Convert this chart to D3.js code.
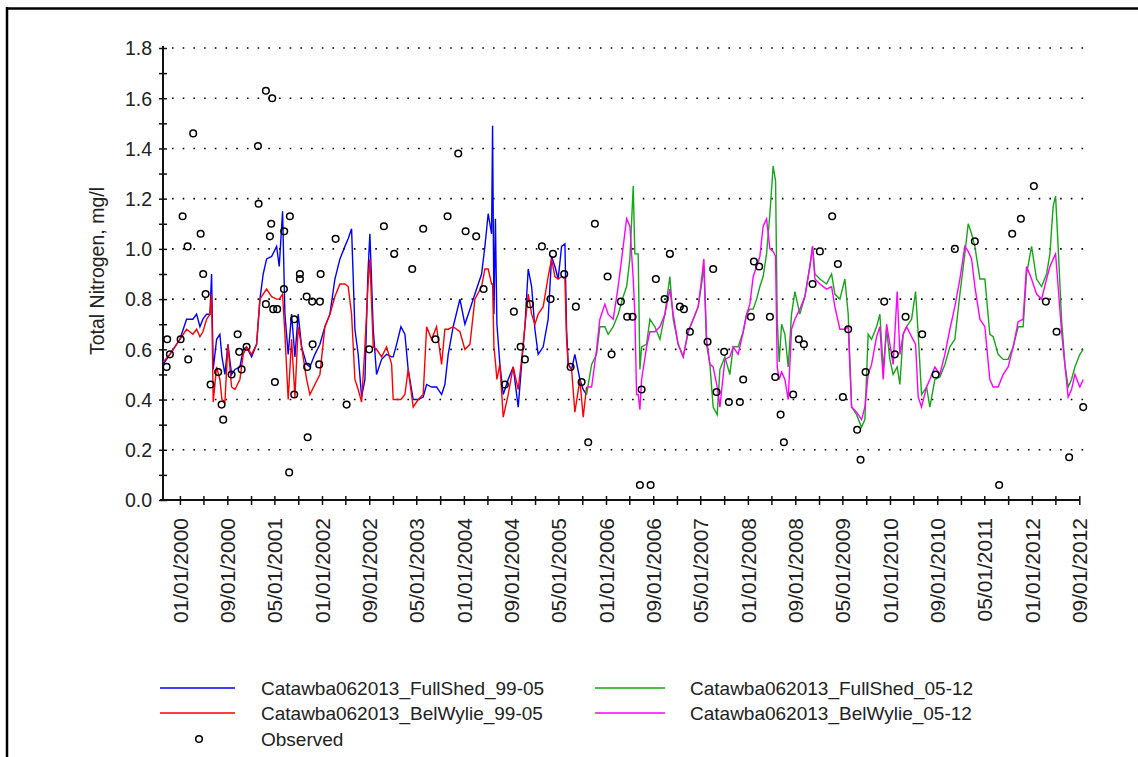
<!DOCTYPE html>
<html>
<head>
<meta charset="utf-8">
<script src="https://cdn.jsdelivr.net/npm/d3@7"></script>
<style>
  body { margin: 0; background: #fff; }
  svg { display: block; font-family: Arial, "Liberation Sans", sans-serif; }
</style>
</head>
<body>
<div id="chart"></div>
<script>
// model runs 1999-2005 (decimal years, mg/l)
const t9905 = [1999.765, 1999.859, 2000.000, 2000.094, 2000.183, 2000.235, 2000.282, 2000.324, 2000.376, 2000.423,
    2000.446, 2000.469, 2000.517, 2000.563, 2000.592, 2000.634, 2000.676, 2000.728, 2000.775, 2000.845,
    2000.892, 2000.939, 2001.010, 2001.080, 2001.127, 2001.173, 2001.221, 2001.292, 2001.362, 2001.399,
    2001.446, 2001.479, 2001.525, 2001.573, 2001.620, 2001.666, 2001.714, 2001.785, 2001.831, 2001.901,
    2001.972, 2002.042, 2002.113, 2002.183, 2002.254, 2002.324, 2002.370, 2002.418, 2002.465, 2002.511,
    2002.559, 2002.606, 2002.648, 2002.676, 2002.723, 2002.770, 2002.841, 2002.911, 2002.982, 2003.004,
    2003.052, 2003.113, 2003.169, 2003.215, 2003.286, 2003.356, 2003.427, 2003.475, 2003.545, 2003.615,
    2003.686, 2003.732, 2003.779, 2003.849, 2003.944, 2004.014, 2004.085, 2004.155, 2004.249, 2004.296,
    2004.342, 2004.390, 2004.404, 2004.423, 2004.444, 2004.465, 2004.507, 2004.554, 2004.624, 2004.694,
    2004.765, 2004.813, 2004.859, 2004.906, 2004.954, 2005.000, 2005.046, 2005.117, 2005.187, 2005.235,
    2005.282, 2005.328, 2005.376, 2005.423, 2005.446, 2005.469, 2005.517, 2005.563, 2005.634, 2005.680,
    2005.728];
const fullShed9905 = [0.54, 0.58, 0.64, 0.72, 0.72, 0.74, 0.69, 0.72, 0.74, 0.74,
    0.90, 0.52, 0.64, 0.66, 0.57, 0.50, 0.62, 0.50, 0.52, 0.53,
    0.60, 0.61, 0.57, 0.62, 0.80, 0.90, 0.96, 0.97, 1.01, 0.93,
    1.15, 0.74, 0.58, 0.74, 0.57, 0.74, 0.61, 0.54, 0.53, 0.58,
    0.62, 0.69, 0.74, 0.88, 0.96, 1.01, 1.04, 1.08, 0.68, 0.58,
    0.41, 0.48, 0.90, 1.06, 0.68, 0.50, 0.56, 0.58, 0.57, 0.57,
    0.62, 0.69, 0.66, 0.52, 0.40, 0.40, 0.41, 0.46, 0.45, 0.45,
    0.42, 0.46, 0.58, 0.69, 0.80, 0.70, 0.76, 0.82, 0.90, 1.01,
    1.14, 1.06, 1.49, 0.74, 1.12, 0.70, 0.54, 0.42, 0.48, 0.53,
    0.37, 0.54, 0.69, 0.92, 0.85, 0.68, 0.58, 0.61, 0.72, 0.97,
    0.93, 0.88, 1.01, 1.02, 0.68, 0.54, 0.52, 0.58, 0.48, 0.44,
    0.42];
const belWylie9905 = [0.55, 0.58, 0.64, 0.68, 0.66, 0.68, 0.65, 0.67, 0.72, 0.74,
    0.82, 0.39, 0.53, 0.48, 0.40, 0.39, 0.62, 0.45, 0.44, 0.48,
    0.58, 0.61, 0.58, 0.62, 0.80, 0.82, 0.84, 0.81, 0.80, 0.80,
    0.82, 0.66, 0.40, 0.64, 0.41, 0.69, 0.61, 0.48, 0.42, 0.46,
    0.50, 0.69, 0.74, 0.81, 0.86, 0.86, 0.85, 0.74, 0.48, 0.44,
    0.39, 0.61, 0.85, 0.96, 0.61, 0.60, 0.57, 0.61, 0.54, 0.40,
    0.40, 0.40, 0.42, 0.52, 0.37, 0.40, 0.42, 0.69, 0.64, 0.69,
    0.54, 0.68, 0.68, 0.69, 0.67, 0.60, 0.62, 0.80, 0.85, 0.92,
    0.92, 0.86, 0.86, 0.61, 0.55, 0.48, 0.54, 0.33, 0.42, 0.53,
    0.44, 0.56, 0.69, 0.82, 0.74, 0.70, 0.74, 0.77, 0.89, 0.96,
    0.89, 0.88, 0.89, 0.88, 0.64, 0.54, 0.52, 0.35, 0.48, 0.33,
    0.45];

// model runs 2005-2012
const t0512 = [2005.728, 2005.799, 2005.869, 2005.915, 2005.986, 2006.032, 2006.103, 2006.173, 2006.244, 2006.292,
    2006.338, 2006.385, 2006.408, 2006.432, 2006.455, 2006.479, 2006.503, 2006.573, 2006.620, 2006.690,
    2006.761, 2006.831, 2006.901, 2006.948, 2007.018, 2007.089, 2007.159, 2007.230, 2007.300, 2007.348,
    2007.380, 2007.418, 2007.465, 2007.511, 2007.568, 2007.606, 2007.676, 2007.746, 2007.793, 2007.863,
    2007.934, 2007.982, 2008.028, 2008.075, 2008.123, 2008.169, 2008.215, 2008.263, 2008.310, 2008.356,
    2008.390, 2008.413, 2008.441, 2008.475, 2008.521, 2008.568, 2008.615, 2008.662, 2008.732, 2008.803,
    2008.873, 2008.911, 2008.944, 2009.014, 2009.108, 2009.179, 2009.225, 2009.296, 2009.366, 2009.413,
    2009.461, 2009.531, 2009.601, 2009.648, 2009.694, 2009.742, 2009.813, 2009.859, 2009.906, 2009.954,
    2010.000, 2010.046, 2010.103, 2010.141, 2010.187, 2010.235, 2010.306, 2010.362, 2010.399, 2010.446,
    2010.517, 2010.563, 2010.634, 2010.704, 2010.775, 2010.845, 2010.915, 2010.986, 2011.056, 2011.103,
    2011.151, 2011.197, 2011.268, 2011.338, 2011.408, 2011.455, 2011.525, 2011.596, 2011.666, 2011.737,
    2011.807, 2011.877, 2011.925, 2011.996, 2012.066, 2012.137, 2012.207, 2012.254, 2012.300, 2012.334,
    2012.370, 2012.418, 2012.465, 2012.511, 2012.559, 2012.606, 2012.676, 2012.723];
const fullShed0512 = [0.42, 0.54, 0.58, 0.69, 0.69, 0.66, 0.69, 0.74, 0.81, 0.85,
    0.96, 1.25, 0.98, 0.98, 0.98, 0.52, 0.61, 0.62, 0.72, 0.69,
    0.64, 0.74, 0.89, 0.72, 0.62, 0.57, 0.67, 0.72, 0.77, 0.86,
    0.93, 0.62, 0.54, 0.37, 0.34, 0.52, 0.57, 0.50, 0.61, 0.61,
    0.67, 0.74, 0.76, 0.76, 0.80, 0.85, 0.89, 0.98, 1.14, 1.33,
    1.27, 0.72, 0.55, 0.70, 0.66, 0.53, 0.74, 0.83, 0.74, 0.81,
    0.93, 1.01, 0.90, 0.88, 0.86, 0.90, 0.82, 0.80, 0.88, 0.74,
    0.37, 0.34, 0.29, 0.32, 0.66, 0.64, 0.69, 0.74, 0.52, 0.68,
    0.56, 0.50, 0.53, 0.46, 0.66, 0.69, 0.72, 0.83, 0.66, 0.42,
    0.45, 0.37, 0.48, 0.49, 0.54, 0.61, 0.64, 0.82, 0.98, 1.10,
    1.06, 1.01, 0.88, 0.88, 0.66, 0.65, 0.58, 0.56, 0.56, 0.61,
    0.69, 0.69, 0.90, 1.01, 0.88, 0.85, 0.90, 0.98, 1.17, 1.21,
    1.01, 0.72, 0.54, 0.45, 0.48, 0.53, 0.58, 0.60];
const belWylie0512 = [0.45, 0.45, 0.60, 0.72, 0.78, 0.74, 0.72, 0.85, 1.01, 1.12,
    1.09, 0.88, 0.74, 0.42, 0.42, 0.36, 0.48, 0.61, 0.67, 0.67,
    0.69, 0.74, 0.84, 0.74, 0.62, 0.57, 0.67, 0.72, 0.77, 0.88,
    0.96, 0.64, 0.54, 0.53, 0.45, 0.37, 0.56, 0.57, 0.61, 0.58,
    0.67, 0.74, 0.78, 0.89, 0.93, 0.97, 1.09, 1.12, 1.00, 0.99,
    0.97, 0.53, 0.48, 0.51, 0.48, 0.40, 0.68, 0.72, 0.76, 0.81,
    0.93, 1.01, 0.88, 0.86, 0.84, 0.85, 0.77, 0.68, 0.68, 0.69,
    0.37, 0.35, 0.32, 0.37, 0.50, 0.54, 0.65, 0.69, 0.48, 0.70,
    0.62, 0.54, 0.83, 0.58, 0.66, 0.69, 0.65, 0.62, 0.41, 0.37,
    0.45, 0.48, 0.53, 0.50, 0.58, 0.68, 0.77, 0.88, 1.01, 0.99,
    0.96, 0.85, 0.72, 0.69, 0.48, 0.45, 0.45, 0.50, 0.53, 0.61,
    0.71, 0.72, 0.93, 0.88, 0.82, 0.80, 0.88, 0.93, 0.96, 0.98,
    0.85, 0.67, 0.54, 0.41, 0.44, 0.50, 0.45, 0.48];

// observed samples
const obsT = [1999.821, 1999.859, 1999.813, 2000.010, 2000.038, 2000.117, 2000.108, 2000.187, 2000.292, 2000.328,
    2000.362, 2000.432, 2000.539, 2000.587, 2000.610, 2000.728, 2000.813, 2000.835, 2000.869, 2000.939,
    2001.108, 2001.099, 2001.211, 2001.300, 2001.286, 2001.268, 2001.211, 2001.314, 2001.338, 2001.370,
    2001.469, 2001.465, 2001.549, 2001.539, 2001.610, 2001.610, 2001.690, 2001.690, 2001.785, 2001.793,
    2001.799, 2001.863, 2001.869, 2001.962, 2001.982, 2001.972, 2002.193, 2002.348, 2002.666, 2002.873,
    2003.018, 2003.272, 2003.427, 2003.601, 2003.770, 2003.920, 2004.024, 2004.173, 2004.277, 2004.577,
    2004.704, 2004.799, 2004.859, 2004.930, 2005.099, 2005.221, 2005.254, 2005.413, 2005.503, 2005.577,
    2005.658, 2005.751, 2005.845, 2006.024, 2006.080, 2006.211, 2006.300, 2006.376, 2006.503, 2006.479,
    2006.630, 2006.704, 2006.827, 2006.901, 2007.042, 2007.099, 2007.183, 2007.432, 2007.511, 2007.559,
    2007.666, 2007.732, 2007.887, 2007.934, 2008.042, 2008.085, 2008.159, 2008.310, 2008.385, 2008.461,
    2008.507, 2008.638, 2008.718, 2008.789, 2008.911, 2009.014, 2009.187, 2009.268, 2009.338, 2009.413,
    2009.539, 2009.587, 2009.658, 2009.920, 2010.070, 2010.221, 2010.455, 2010.644, 2010.915, 2011.197,
    2011.539, 2011.723, 2011.845, 2012.028, 2012.197, 2012.348, 2012.525, 2012.723];
const obsV = [0.64, 0.58, 0.53, 0.64, 1.13, 0.56, 1.01, 1.46, 1.06, 0.90,
    0.82, 0.46, 0.51, 0.38, 0.32, 0.50, 0.66, 0.59, 0.52, 0.61,
    1.18, 1.41, 1.63, 1.60, 1.10, 1.05, 0.78, 0.76, 0.47, 0.76,
    1.07, 0.84, 1.13, 0.11, 0.42, 0.72, 0.90, 0.88, 0.81, 0.53,
    0.25, 0.79, 0.62, 0.54, 0.90, 0.79, 1.04, 0.38, 0.60, 1.09,
    0.98, 0.92, 1.08, 0.64, 1.13, 1.38, 1.07, 1.05, 0.84, 0.46,
    0.75, 0.61, 0.56, 0.78, 1.01, 0.80, 0.98, 0.90, 0.53, 0.77,
    0.47, 0.23, 1.10, 0.89, 0.58, 0.79, 0.73, 0.73, 0.44, 0.06,
    0.06, 0.88, 0.80, 0.98, 0.77, 0.76, 0.67, 0.63, 0.92, 0.43,
    0.59, 0.39, 0.39, 0.48, 0.73, 0.95, 0.93, 0.73, 0.49, 0.34,
    0.23, 0.42, 0.64, 0.62, 0.86, 0.99, 1.13, 0.94, 0.41, 0.68,
    0.28, 0.16, 0.51, 0.79, 0.58, 0.73, 0.66, 0.50, 1.00, 1.03,
    0.06, 1.06, 1.12, 1.25, 0.79, 0.67, 0.17, 0.37];

const yTicks = [0, 0.1, 0.2, 0.3, 0.4, 0.5, 0.6, 0.7, 0.8, 0.9, 1.0, 1.1, 1.2, 1.3, 1.4, 1.5, 1.6, 1.7, 1.8];
const gridValues = [0.2, 0.4, 0.6, 0.8, 1.0, 1.2, 1.4, 1.6, 1.8];
const seriesNames = ['Catawba062013_FullShed_99-05', 'Catawba062013_BelWylie_99-05',
    'Catawba062013_FullShed_05-12', 'Catawba062013_BelWylie_05-12'];
const seriesColors = ['#0000ff', '#ff0000', '#16a616', '#ff00ff'];

const width = 1138, height = 757;
const toDate = yr => new Date(Date.UTC(2000, 0, 1) + (yr - 2000) * 365.25 * 864e5);

const svg = d3.select('#chart').append('svg')
    .attr('width', width)
    .attr('height', height);

// frame (only top and left edge visible)
svg.append('line').attr('x1', 6).attr('x2', width).attr('y1', 8.5).attr('y2', 8.5)
    .attr('stroke', '#000').attr('stroke-width', 2.5);
svg.append('line').attr('x1', 7).attr('x2', 7).attr('y1', 7).attr('y2', height)
    .attr('stroke', '#000').attr('stroke-width', 2.5);

const x = d3.scaleUtc()
    .domain([new Date(Date.UTC(1999, 9, 6)), new Date(Date.UTC(2012, 8, 1))])
    .range([163, 1079.3]);
const y = d3.scaleLinear()
    .domain([0, 1.8])
    .range([500, 48]);

// dotted grid
svg.append('g').selectAll('line')
    .data(gridValues)
    .join('line')
    .attr('x1', 172).attr('x2', 1086)
    .attr('y1', d => y(d)).attr('y2', d => y(d))
    .attr('stroke', '#000')
    .attr('stroke-width', 1.6)
    .attr('stroke-dasharray', '1.6,9.1');

const xTicks = d3.utcMonth.every(4).range(new Date(Date.UTC(2000, 0, 1)), new Date(Date.UTC(2012, 8, 2)));
const fmt = d3.utcFormat('%m/%d/%Y');

const xAxis = svg.append('g')
    .attr('transform', 'translate(0,500)')
    .call(d3.axisBottom(x).tickValues(xTicks).tickSizeOuter(0)
        .tickFormat((d, i) => i % 2 === 0 ? fmt(d) : ''));
xAxis.select('.domain').attr('d', 'M160,0H1079.3').attr('stroke', '#111').attr('stroke-width', 2);
xAxis.selectAll('.tick line').attr('y1', -4).attr('y2', 5).attr('stroke', '#111').attr('stroke-width', 1.5);
xAxis.selectAll('.tick text')
    .attr('transform', 'rotate(-90)')
    .attr('text-anchor', 'end')
    .attr('x', -18).attr('y', 0).attr('dy', '0.36em')
    .style('font-size', '21px')
    .style('font-family', 'Arial, "Liberation Sans", sans-serif')
    .attr('fill', '#222');

const yAxis = svg.append('g')
    .attr('transform', 'translate(163,0)')
    .call(d3.axisLeft(y).tickValues(yTicks).tickSizeOuter(0)
        .tickFormat((d, i) => i % 2 === 0 ? d3.format('.1f')(d) : ''));
yAxis.select('.domain').attr('d', 'M0,500V46').attr('stroke', '#111').attr('stroke-width', 2);
yAxis.selectAll('.tick line').attr('x1', -4).attr('x2', 4).attr('stroke', '#111').attr('stroke-width', 1.5);
yAxis.selectAll('.tick text')
    .attr('x', -11).attr('dy', '0.35em')
    .style('font-size', '19.5px')
    .style('font-family', 'Arial, "Liberation Sans", sans-serif')
    .attr('fill', '#222');

svg.append('text')
    .attr('transform', 'translate(104,271) rotate(-90)')
    .attr('text-anchor', 'middle')
    .style('font-size', '19.5px')
    .attr('fill', '#222')
    .text('Total Nitrogen, mg/l');

const line = d3.line()
    .x(d => x(toDate(d[0])))
    .y(d => y(d[1]));

const seriesData = [
    d3.zip(t9905, fullShed9905),
    d3.zip(t9905, belWylie9905),
    d3.zip(t0512, fullShed0512),
    d3.zip(t0512, belWylie0512)
];

svg.append('g').selectAll('path')
    .data(seriesData)
    .join('path')
    .attr('d', line)
    .attr('fill', 'none')
    .attr('stroke', (d, i) => seriesColors[i])
    .attr('stroke-width', 1.4);

svg.append('g').selectAll('circle')
    .data(d3.zip(obsT, obsV))
    .join('circle')
    .attr('cx', d => x(toDate(d[0])))
    .attr('cy', d => y(d[1]))
    .attr('r', 3.3)
    .attr('fill', 'none')
    .attr('stroke', '#000')
    .attr('stroke-width', 1.5);

// legend
const legend = svg.append('g').style('font-size', '19px').attr('fill', '#222');
const legendPos = [[160, 688], [160, 713], [595, 688], [595, 713]];
seriesNames.forEach((name, i) => {
    const [lx, ly] = legendPos[i];
    const lw = i < 2 ? 75 : 70;
    legend.append('line')
        .attr('x1', lx).attr('x2', lx + lw)
        .attr('y1', ly).attr('y2', ly)
        .attr('stroke', seriesColors[i]).attr('stroke-width', 1.5);
    legend.append('text')
        .attr('x', i < 2 ? 261 : 690).attr('y', ly).attr('dy', '0.35em')
        .text(name);
});
legend.append('circle')
    .attr('cx', 199).attr('cy', 739).attr('r', 3.3)
    .attr('fill', 'none').attr('stroke', '#000').attr('stroke-width', 1.5);
legend.append('text')
    .attr('x', 261).attr('y', 739).attr('dy', '0.35em')
    .text('Observed');
</script>
</body>
</html>
